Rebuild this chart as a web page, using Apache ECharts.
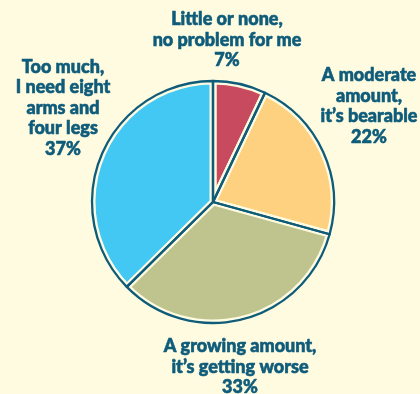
<!DOCTYPE html>
<html>
<head>
<meta charset="utf-8">
<style>
  html, body { margin: 0; padding: 0; background: #fffbe1; }
  #chart { width: 420px; height: 394px; }
</style>
<script src="https://cdn.jsdelivr.net/npm/echarts@6/dist/echarts.min.js"></script>
</head>
<body>
<div id="chart"></div>
<script>
// Survey answers, clockwise from the top of the pie
const categories = [
  'Little or none,\nno problem for me',
  'A moderate\namount,\nit\u2019s bearable',
  'A growing amount,\nit\u2019s getting worse',
  'Too much,\nI need eight\narms and\nfour legs'
];
const shares = [7, 22, 33, 37];
const sliceColors = ['#c84a5e', '#fdd17f', '#bfc48e', '#43c8f4'];

const ink = '#0f5c7a';
const paper = '#fffbe1';

// Where each label block sits (centre point, px)
const labelSpots = [
  [227, 40],
  [369, 106],
  [240, 367],
  [63, 108]
];

const data = categories.map((name, i) => ({
  name: name,
  value: shares[i],
  itemStyle: { color: sliceColors[i] }
}));

const chart = echarts.init(document.getElementById('chart'), null, { renderer: 'canvas' });
chart.setOption({
  backgroundColor: paper,
  animation: false,
  series: [
    {
      // coloured slices with a pale rim on every edge
      type: 'pie',
      center: [213, 202],
      radius: [0, 121],
      startAngle: 90,
      clockwise: true,
      data: data,
      itemStyle: { borderColor: paper, borderWidth: 7 },
      label: {
        show: true,
        formatter: p => p.name + '\n' + p.value + '%',
        color: ink,
        fontFamily: 'Lato',
        fontWeight: 900,
        fontSize: 18,
        lineHeight: 20.5,
        align: 'center',
        overflow: 'none',
        width: 200,
        textBorderColor: ink,
        textBorderWidth: 0.6
      },
      labelLine: { show: false },
      labelLayout: p => ({
        x: labelSpots[p.dataIndex][0],
        y: labelSpots[p.dataIndex][1],
        align: 'center',
        verticalAlign: 'middle',
        hideOverlap: false
      }),
      emphasis: { disabled: true }
    },
    {
      // dark outline drawn over the slice edges
      type: 'pie',
      center: [213, 202],
      radius: [0, 121],
      startAngle: 90,
      clockwise: true,
      silent: true,
      data: shares.map((v, i) => ({ name: categories[i], value: v })),
      itemStyle: { color: 'rgba(0,0,0,0)', borderColor: ink, borderWidth: 2.3 },
      label: { show: false },
      labelLine: { show: false },
      emphasis: { disabled: true }
    }
  ]
});
</script>
</body>
</html>
